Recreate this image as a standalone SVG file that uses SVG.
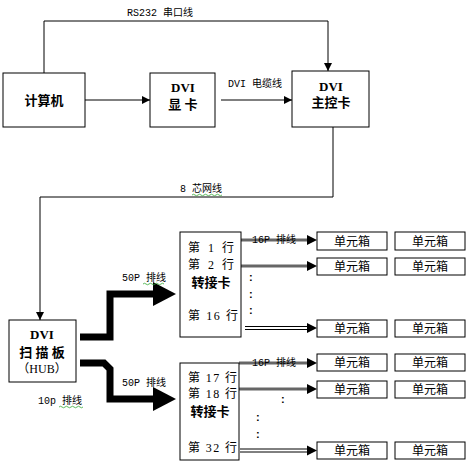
<svg xmlns="http://www.w3.org/2000/svg" width="470" height="464" viewBox="0 0 470 464">
<defs>
<marker id="ah" viewBox="0 0 10 10" refX="10" refY="5" markerWidth="8" markerHeight="8" markerUnits="userSpaceOnUse" orient="auto"><path d="M0,0 L10,5 L0,10 z" fill="#000"/></marker>
<style>
.box{fill:#fff;stroke:#000;stroke-width:1}
.ubox{fill:#fff;stroke:#000;stroke-width:1}
.bt{font-family:"Liberation Serif","Noto Sans CJK SC",serif;font-size:13px;font-weight:bold;text-anchor:middle}
.rt{font-family:"Liberation Serif","Noto Sans CJK SC",serif;font-size:12px}
.ut{font-family:"Noto Sans CJK SC",sans-serif;font-size:12px;text-anchor:middle}
.lb{font-family:"Liberation Mono","Noto Sans CJK SC",monospace;font-size:10px}
.ln{fill:none;stroke:#000;stroke-width:1}
.gl{fill:none;stroke:#666;stroke-width:3}
.dl{fill:none;stroke:#000;stroke-width:1}
.thick{fill:none;stroke:#000;stroke-width:7}
.sq{fill:none;stroke:#3a3;stroke-width:0.8}
.col{font-family:"Liberation Sans",sans-serif;font-size:11px;font-weight:bold}
</style>
</defs>
<rect width="470" height="464" fill="#fff"/>
<g id="connectors">
<polyline class="ln" points="44,73 44,21 328,21 328,71" marker-end="url(#ah)"/>
<line class="ln" x1="85" y1="100" x2="150" y2="100" marker-end="url(#ah)"/>
<line class="ln" x1="221" y1="100" x2="292" y2="100" marker-end="url(#ah)"/>
<polyline class="ln" points="333,127 333,197 40,197 40,320" marker-end="url(#ah)"/>
<polyline class="thick" points="80,337 110,337 110,294 155,294"/>
<path d="M153,282 L176,294 L153,306 z" fill="#000"/>
<polyline class="thick" points="80,363 104,363 110,369 110,399 155,399"/>
<path d="M153,387 L176,399 L153,411 z" fill="#000"/>
<line class="gl" x1="241" y1="240" x2="310" y2="240"/>
<path d="M307,235 L317,240 L307,245 z" fill="#000"/>
<line class="gl" x1="241" y1="266" x2="310" y2="266"/>
<path d="M307,261 L317,266 L307,271 z" fill="#000"/>
<line class="dl" x1="245" y1="326.5" x2="310" y2="326.5"/>
<line class="dl" x1="245" y1="329.5" x2="310" y2="329.5"/>
<path d="M307,323 L317,328 L307,333 z" fill="#000"/>
<line class="gl" x1="239" y1="363" x2="310" y2="363"/>
<path d="M307,358 L317,363 L307,368 z" fill="#000"/>
<line class="gl" x1="239" y1="389" x2="310" y2="389"/>
<path d="M307,384 L317,389 L307,394 z" fill="#000"/>
<line class="dl" x1="240" y1="449" x2="310" y2="449"/>
<line class="dl" x1="240" y1="452" x2="310" y2="452"/>
<path d="M307,445.5 L317,450.5 L307,455.5 z" fill="#000"/>
</g>
<g id="labels">
<text class="lb" x="127" y="16">RS232 串口线</text>
<text class="lb" x="228" y="87">DVI 电缆线</text>
<text class="lb" x="180" y="192">8 芯网线</text>
<path class="sq" d="M192,195 q1.5,-1.5 3,0 t3,0 t3,0 t3,0 t3,0 t3,0 t3,0 t3,0 t3,0 t3,0"/>
<text class="lb" x="122" y="281">50P 排线</text>
<path class="sq" d="M143,284 q1.5,-1.5 3,0 t3,0 t3,0 t3,0 t3,0 t3,0 t3,0"/>
<text class="lb" x="122" y="386">50P 排线</text>
<text class="lb" x="38" y="404">10p 排线</text>
<path class="sq" d="M59,407 q1.5,-1.5 3,0 t3,0 t3,0 t3,0 t3,0 t3,0 t3,0 t3,0"/>
<text class="lb" x="252" y="243">16P 排线</text>
<text class="lb" x="252" y="366">16P 排线</text>
<text class="col" x="249" y="281">:</text>
<text class="col" x="249" y="298">:</text>
<text class="col" x="249" y="314">:</text>
<text class="col" x="281" y="403">:</text>
<text class="col" x="256" y="421">:</text>
<text class="col" x="256" y="438">:</text>
</g>
<g id="computer">
<rect class="box" x="3" y="73" width="82" height="54"/>
<text class="bt" x="44" y="105">计算机</text>
</g>
<g id="dvi-card">
<rect class="box" x="150" y="73" width="65" height="54"/>
<text class="bt" x="183" y="92">DVI</text>
<text class="bt" x="183" y="109">显 卡</text>
</g>
<g id="dvi-master">
<rect class="box" x="292" y="71" width="77" height="56"/>
<text class="bt" x="331" y="91">DVI</text>
<text class="bt" x="331" y="107">主控卡</text>
</g>
<g id="scan-board">
<rect class="box" x="9" y="320" width="67" height="62"/>
<text class="bt" x="42" y="339">DVI</text>
<text class="bt" x="42" y="357">扫 描 板</text>
<text class="rt" x="42" y="373" text-anchor="middle">（HUB）</text>
</g>
<g id="adapter-1">
<rect class="box" x="180" y="232" width="61" height="105"/>
<text class="rt" x="188" y="252" textLength="46" lengthAdjust="spacing">第 1 行</text>
<text class="rt" x="188" y="269" textLength="46" lengthAdjust="spacing">第 2 行</text>
<text class="bt" x="211" y="287">转接卡</text>
<text class="rt" x="188" y="320" textLength="50" lengthAdjust="spacing">第 16 行</text>
</g>
<g id="adapter-2">
<rect class="box" x="180" y="363" width="59" height="97"/>
<text class="rt" x="188" y="382" textLength="49" lengthAdjust="spacing">第 17 行</text>
<text class="rt" x="188" y="398" textLength="49" lengthAdjust="spacing">第 18 行</text>
<text class="bt" x="210" y="416">转接卡</text>
<text class="rt" x="188" y="452" textLength="49" lengthAdjust="spacing">第 32 行</text>
</g>
<g id="units">
<g id="u1a"><rect class="ubox" x="317" y="232" width="70" height="18"/><text class="ut" x="352" y="246">单元箱</text></g>
<g id="u1b"><rect class="ubox" x="395" y="232" width="70" height="18"/><text class="ut" x="430" y="246">单元箱</text></g>
<g id="u2a"><rect class="ubox" x="317" y="258" width="70" height="17"/><text class="ut" x="352" y="271">单元箱</text></g>
<g id="u2b"><rect class="ubox" x="395" y="258" width="70" height="17"/><text class="ut" x="430" y="271">单元箱</text></g>
<g id="u3a"><rect class="ubox" x="317" y="320" width="70" height="17"/><text class="ut" x="352" y="333">单元箱</text></g>
<g id="u3b"><rect class="ubox" x="395" y="320" width="70" height="17"/><text class="ut" x="430" y="333">单元箱</text></g>
<g id="u4a"><rect class="ubox" x="317" y="354" width="70" height="17"/><text class="ut" x="352" y="367">单元箱</text></g>
<g id="u4b"><rect class="ubox" x="395" y="354" width="70" height="17"/><text class="ut" x="430" y="367">单元箱</text></g>
<g id="u5a"><rect class="ubox" x="317" y="381" width="70" height="17"/><text class="ut" x="352" y="394">单元箱</text></g>
<g id="u5b"><rect class="ubox" x="395" y="381" width="70" height="17"/><text class="ut" x="430" y="394">单元箱</text></g>
<g id="u6a"><rect class="ubox" x="317" y="442" width="70" height="17"/><text class="ut" x="352" y="455">单元箱</text></g>
<g id="u6b"><rect class="ubox" x="395" y="442" width="70" height="17"/><text class="ut" x="430" y="455">单元箱</text></g>
</g>
</svg>
